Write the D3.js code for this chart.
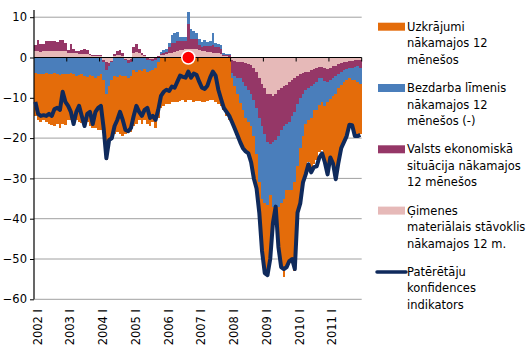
<!DOCTYPE html>
<html>
<head>
<meta charset="utf-8">
<script src="https://cdn.jsdelivr.net/npm/d3@7"></script>
<style>
  body { margin: 0; background: #fff; }
  svg { font-family: Verdana, "DejaVu Sans", sans-serif; }
</style>
</head>
<body>
<div id="chart"></div>
<script>
// monthly data, Jan 2002 - Dec 2011
const years = d3.range(2002, 2012);
const months = years.flatMap(y => d3.range(1, 13).map(m => y + "-" + m));

const tickLabels = ["2002 I", "2003 I", "2004 I", "2005 I", "2006 I",
                    "2007 I", "2008 I", "2009 I", "2010 I", "2011 I"];

// Ģimenes materiālais stāvoklis
const pink = [
  1.5,1.5,1.4,1.5,1.6,1.7,1.6,1.5,1.6,1.7,1.6,1.5,
  1.0,1.2,1.2,1.0,0.8,0.8,0.9,0.8,0.5,0.4,0.3,0.3,
  0.3,-0.5,-1.2,-1.3,-0.8,0.3,0.5,0.6,0.4,-0.3,-0.5,-0.4,
  1.2,1.3,1.0,0.5,0.3,-0.2,-0.3,-0.3,-0.2,0.2,0.5,0.6,
  0.8,1.0,1.2,1.3,1.5,1.8,1.8,2.0,2.2,2.1,2.0,2.0,
  1.8,1.5,1.5,1.4,1.3,1.2,1.2,1.1,0.8,0.4,0.3,0.2,
  -0.6,-0.8,-1,-1,-1.2,-1.3,-1.5,-1.8,-2.5,-3.5,-5,-6.5,
  -7.5,-9,-9,-9.5,-9,-8,-7.5,-7,-6.8,-6,-5.5,-5,
  -4.5,-4,-3.8,-3.5,-3.5,-3,-2.8,-2.5,-2.3,-2.3,-2.6,-2.8,
  -2.5,-2.2,-2,-1.5,-1.3,-1.2,-1,-0.8,-0.8,-0.7,-0.6,-0.5
];

// Valsts ekonomiskā situācija
const purple = [
  1.5,2.8,2.0,1.8,2.5,2.3,2.4,2.5,2.3,2.6,2.8,2.2,
  0.8,2.2,1.0,0.6,0.8,1.0,1.2,1.0,0.4,0.3,0.3,0.2,
  0.3,-0.6,-1.8,-0.8,-0.4,0.6,1.2,1.3,0.8,-0.3,-0.8,-0.6,
  1.5,2.0,1.2,0.6,0.3,-0.3,-0.4,-0.5,-0.3,0.2,0.4,0.5,
  0.6,1.5,2.3,2.4,2.6,2.2,2.2,2.0,6.0,2.6,2.5,2.5,
  1.4,1.2,1.3,1.5,1.6,2.0,1.5,1.4,1.3,0.3,0.4,0.3,
  -3.2,-3.7,-4,-4.2,-4.8,-5.7,-6.5,-7.2,-8,-9,-10,-10.5,
  -11.5,-12,-12.5,-11.5,-11.5,-11.5,-10.5,-10,-9.7,-10,-9,-8.5,
  -7,-6,-5.2,-4.5,-4,-4,-3.7,-3.5,-2.9,-2.7,-3.2,-3.2,
  -3,-2.8,-2.5,-2.5,-2.2,-2,-1.8,-1.7,-1.7,-1.6,-1.6,-2
];

// Bezdarba līmenis (-)
const blue = [
  -3.8,-4.0,-4.2,-4.0,-3.9,-4.1,-4.2,-3.9,-4.0,-4.3,-4.1,-4.0,
  -4.0,-3.8,-4.2,-4.5,-4.3,-4.0,-4.6,-4.8,-4.4,-4.7,-5.0,-4.6,
  -4.2,-4.5,-6.0,-5.0,-4.4,-4.6,-4.8,-4.3,-4.5,-4.0,-3.8,-3.6,
  -3.2,-3.5,-3.0,-3.4,-2.8,-3.0,-2.6,-2.4,-2.2,-1.2,0.5,0.8,
  0.8,1.2,2.1,2.3,2.2,1.0,1.0,1.2,3.0,2.4,2.0,1.5,
  1.5,1.2,1.5,1.0,1.2,2.8,0.8,0.9,1.0,0.3,0.2,0.3,
  -1.4,-2.5,-4,-6.2,-7,-8,-8,-8,-9,-11.5,-16,-18,
  -17,-15.5,-12.5,-16,-17,-17.5,-18,-18,-16.5,-17,-18.5,-17.5,
  -15.5,-12.5,-10.5,-8.5,-8,-8,-6.5,-7,-6.5,-6,-6.2,-5,
  -4.8,-4.5,-4.5,-3.5,-3.2,-3,-2.8,-2.6,-3,-3.2,-3.8,-4
];

// Uzkrājumi
const orange = [
  -10.7,-11.5,-11.8,-11.5,-12.1,-12.4,-12.6,-13.1,-12.5,-13.2,-12.4,-12.8,
  -11.5,-11.7,-12.3,-11,-11.7,-12.2,-12.2,-11.2,-12.6,-12.8,-12.5,-13.4,
  -13.8,-12.9,-16.5,-14.4,-14.4,-14.4,-13.7,-14.7,-15,-14.4,-13.4,-13.9,
  -13.8,-13,-12.5,-13.1,-12.7,-13,-13.7,-12.8,-14.8,-13.8,-12.5,-12,
  -11.5,-11.5,-11,-11,-11,-10.8,-10.5,-11,-10.5,-10.5,-11,-10.8,
  -10.8,-11,-11,-10.8,-10.5,-10.5,-11,-11.5,-12,-13,-14.5,-15.5,
  -11.3,-11,-10.5,-9.6,-9.5,-8.5,-8.3,-9,-10.5,-8.5,-7.5,-13,
  -17.5,-17.5,-16,-4.5,-2,-10,-16,-19.5,-19,-18,-17,-22,
  -12,-14,-11.5,-12.5,-10.5,-13,-13.5,-12.5,-11.8,-12,-14,-18,
  -14.7,-17,-21,-18.5,-15.8,-14.8,-13.9,-11.9,-12,-14,-13.5,-12.5
];

// Patērētāju konfidences indikators
const confidence = [
  -11,-14,-14.5,-14.3,-14.5,-14,-14.5,-12.8,-12.5,-13,-8.5,-11,
  -12,-13.5,-16.5,-13.5,-12,-14.5,-17,-14,-13.5,-16.5,-13.5,-12.5,
  -12,-17.5,-25,-20.5,-20,-17,-15.5,-13.5,-15.5,-18,-18.3,-17.5,
  -14.5,-12,-13.5,-14.5,-13,-12.5,-15,-14.5,-15.5,-13,-9.5,-8.5,
  -8,-8.3,-7.2,-7.5,-6,-4.5,-4.8,-5,-3.5,-5,-4,-4.3,
  -6,-7.5,-7.8,-7,-5,-3.5,-4.5,-8,-10.3,-12.5,-13.5,-14.5,
  -16,-17.6,-19.3,-21,-22.5,-23.3,-23.8,-26,-30,-32.5,-38.5,-48,
  -53.5,-54,-50,-41,-37,-47,-52,-52.5,-52,-50.5,-50,-52.5,
  -38.5,-36.2,-31,-29,-26.5,-28.5,-27.2,-27,-24.8,-23.8,-26,-29,
  -24.8,-26.3,-30.2,-26,-22.5,-21,-19.5,-16.7,-16.8,-19.5,-19.5,-19.2
];

const markIndex = 56, markValue = 0;   // red dot, Sept 2006

const seriesKeys = ["pink", "purple", "blue", "orange"];
const colors = { pink: "#e6b9b8", purple: "#953767", blue: "#4a7ebb", orange: "#e46c0a" };

const legendLabels = [
  ["Uzkrājumi", "nākamajos 12", "mēnešos"],
  ["Bezdarba līmenis", "nākamajos 12", "mēnešos (-)"],
  ["Valsts ekonomiskā", "situācija nākamajos", "12 mēnešos"],
  ["Ģimenes", "materiālais stāvoklis", "nākamajos 12 m."],
  ["Patērētāju", "konfidences", "indikators"]
];
const legendColors = [colors.orange, colors.blue, colors.purple, colors.pink, "#0f2a5c"];

let width = 529, height = 350,
    plot = ({ left: 34, right: 361.7, top: 17.2, bottom: 299.3 });

const svg = d3.select("#chart").append("svg")
    .attr("width", width).attr("height", height)
    .attr("viewBox", [0, 0, width, height]);

const x = d3.scaleBand()
    .domain(d3.range(months.length))
    .range([plot.left, plot.right])
    .padding(0);

const y = d3.scaleLinear()
    .domain([-60, 10])
    .range([plot.bottom, plot.top]);

// gridlines
svg.append("g").selectAll("line")
    .data(d3.range(-60, 11, 10).filter(v => v !== 0))
    .join("line")
    .attr("x1", plot.left).attr("x2", plot.right)
    .attr("y1", d => y(d)).attr("y2", d => y(d))
    .attr("stroke", "#a0a0a0").attr("stroke-width", 1);

// stacked bars
const rows = months.map((m, i) => ({
    pink: pink[i], purple: purple[i], blue: blue[i], orange: orange[i]
}));
const stacked = d3.stack().keys(seriesKeys).offset(d3.stackOffsetDiverging)(rows);

svg.append("g").attr("shape-rendering", "crispEdges")
  .selectAll("g")
  .data(stacked)
  .join("g")
    .attr("fill", s => colors[s.key])
  .selectAll("rect")
  .data(s => s)
  .join("rect")
    .attr("x", (d, i) => x(i))
    .attr("width", x.bandwidth())
    .attr("y", d => y(Math.max(d[0], d[1])))
    .attr("height", d => Math.abs(y(d[0]) - y(d[1])));

// zero line with year ticks
const y0 = y(0);
svg.append("line")
    .attr("x1", plot.left).attr("x2", plot.right)
    .attr("y1", y0).attr("y2", y0)
    .attr("stroke", "#000").attr("stroke-width", 1.2);

const yearStarts = d3.range(1, 11).map(k => k < 10 ? x(k * 12) : plot.right);
svg.append("g").selectAll("line")
    .data(yearStarts)
    .join("line")
    .attr("x1", d => d).attr("x2", d => d)
    .attr("y1", y0).attr("y2", y0 + 4)
    .attr("stroke", "#000");

// y axis
const yAxis = svg.append("g")
    .attr("transform", `translate(${plot.left},0)`)
    .call(d3.axisLeft(y).tickValues(d3.range(-60, 11, 10)).tickSize(4).tickSizeOuter(0));
yAxis.select(".domain").remove();
yAxis.selectAll("text").attr("font-size", 11.5).attr("fill", "#000")
    .attr("font-family", "Verdana, 'DejaVu Sans', sans-serif");
yAxis.selectAll(".tick line").attr("stroke", "#000");
svg.append("line")
    .attr("x1", plot.left).attr("x2", plot.left)
    .attr("y1", 10).attr("y2", plot.bottom)
    .attr("stroke", "#000").attr("stroke-width", 1.2);

// x labels
svg.append("g").selectAll("text")
    .data(tickLabels)
    .join("text")
    .attr("transform", (d, i) => `translate(${x(i * 12) + 3.5},309) rotate(-90)`)
    .attr("text-anchor", "end")
    .attr("dy", "0.35em")
    .attr("font-size", 11.5)
    .text(d => d);

// confidence line
const line = d3.line()
    .x((d, i) => x(i) + x.bandwidth() / 2)
    .y(d => y(d));

svg.append("path")
    .datum(confidence)
    .attr("d", line)
    .attr("fill", "none")
    .attr("stroke", "#0f2a5c")
    .attr("stroke-width", 4)
    .attr("stroke-linejoin", "round");

svg.append("circle")
    .attr("cx", x(markIndex) + x.bandwidth() / 2)
    .attr("cy", y(markValue))
    .attr("r", 6.5)
    .attr("fill", "#ff0000")
    .attr("stroke", "#fff")
    .attr("stroke-width", 1.5);

// legend
const legend = svg.append("g");
legendLabels.forEach((lines, k) => {
    const ly = 26.7 + k * 61.3;
    if (k < 4) {
        legend.append("rect")
            .attr("x", 378).attr("y", ly - 4).attr("width", 27).attr("height", 8)
            .attr("fill", legendColors[k]);
    } else {
        legend.append("line")
            .attr("x1", 377).attr("x2", 406).attr("y1", ly).attr("y2", ly)
            .attr("stroke", legendColors[k]).attr("stroke-width", 3.5)
            .attr("stroke-linecap", "round");
    }
    lines.forEach((t, j) => {
        legend.append("text")
            .attr("x", 407).attr("y", ly + j * 16.5)
            .attr("dy", "0.35em")
            .attr("font-size", 11.5)
            .text(t);
    });
});
</script>
</body>
</html>
